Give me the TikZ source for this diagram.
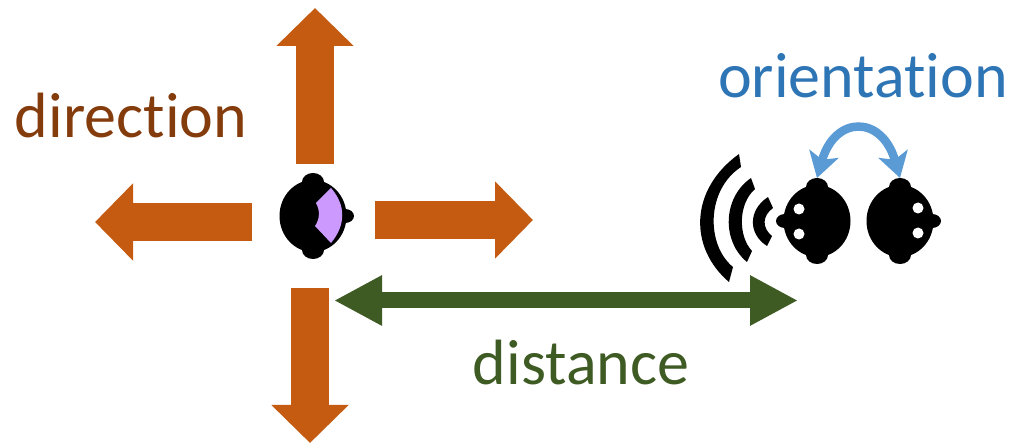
\documentclass[tikz,border=0pt]{standalone}
\usepackage{fontspec}
\setmainfont{Carlito}[Ligatures=CommonOff]
\usetikzlibrary{arrows.meta}
\definecolor{dirarrow}{HTML}{C55A11}
\definecolor{dirtext}{HTML}{843C0C}
\definecolor{distgreen}{HTML}{3F5B24}
\definecolor{oritext}{HTML}{2E75B6}
\definecolor{oriarrow}{HTML}{5B9BD5}
\definecolor{earlilac}{HTML}{CC99FF}
\tikzset{
 x=1pt,y=-1pt,
 dirblock/.style={line width=38pt,color=dirarrow,-{Triangle[length=38pt,width=75pt]}},
 distblock/.style={line width=16pt,color=distgreen,{Triangle[length=48pt,width=47pt]}-{Triangle[length=48pt,width=47pt]}},
 orient/.style={line width=8.5pt,color=oriarrow,{Stealth[length=25pt,width=30pt,inset=6pt]}-{Stealth[length=25pt,width=30pt,inset=6pt]}},
 lab/.style={font=\fontsize{64}{66}\selectfont,inner sep=0pt,anchor=base},
}
\newcommand{\headshape}[3]{% centre x, y, nose direction (+1 right, -1 left)
 \fill[black] (#1,#2) ellipse [x radius=33.5pt,y radius=36pt];
 \fill[black] (#1,#2-34) ellipse [x radius=11pt,y radius=9pt];
 \fill[black] (#1,#2+34) ellipse [x radius=11pt,y radius=9pt];
 \fill[black] (#1+#3*32,#2) ellipse [x radius=9pt,y radius=7pt];
}
\begin{document}
\begin{tikzpicture}
\useasboundingbox (0,0) rectangle (1010,443);
% block arrows
\coordinate (upA) at (315,164); \coordinate (upB) at (315,8);
\coordinate (lfA) at (252,222); \coordinate (lfB) at (95,222);
\coordinate (rtA) at (375,220); \coordinate (rtB) at (533,220);
\coordinate (dnA) at (310,288); \coordinate (dnB) at (310,443);
\draw[dirblock] (upA) -- (upB);
\draw[dirblock] (lfA) -- (lfB);
\draw[dirblock] (rtA) -- (rtB);
\draw[dirblock] (dnA) -- (dnB);
% centre head
\headshape{313}{216}{1}
\fill[earlilac] (331,188) .. controls (346,205) and (346,225) .. (331,243) -- (315,226)
   .. controls (320,219) and (320,210) .. (316,203) -- cycle;
% distance
\coordinate (dsA) at (334,300.5); \coordinate (dsB) at (798,300.5);
\draw[distblock] (dsA) -- (dsB);
% sound waves
\fill[black] (739,154) .. controls (689,190) and (689,248) .. (729,282) -- (733,267)
   .. controls (706,245) and (706,190) .. (741,167) -- cycle;
\fill[black] (751,178) .. controls (722,198) and (722,242) .. (747,262) -- (752,251)
   .. controls (738,236) and (738,204) .. (755,189) -- cycle;
\fill[black] (768,197) .. controls (748,210) and (748,234) .. (767,246) -- (772,236)
   .. controls (762,228) and (762,216) .. (773,208) -- cycle;
% listeners
\headshape{817}{221}{-1}
\headshape{900}{221}{1}
\fill[white] (799,209) circle (5.5pt) (799,234) circle (5.5pt);
\fill[white] (918,208) circle (5.5pt) (918,233) circle (5.5pt);
% orientation arrow
\coordinate (orA) at (817,178); \coordinate (orB) at (900,178);
\draw[orient] (orA) .. controls (835,115) and (882,115) .. (orB);
% labels
\node[lab,text=dirtext] (direction) at (131,138) {direction};
\node[lab,text=oritext] (orientation) at (863,98) {orientation};
\node[lab,text=distgreen] (distance) at (581,385) {distance};
\end{tikzpicture}
\end{document}
